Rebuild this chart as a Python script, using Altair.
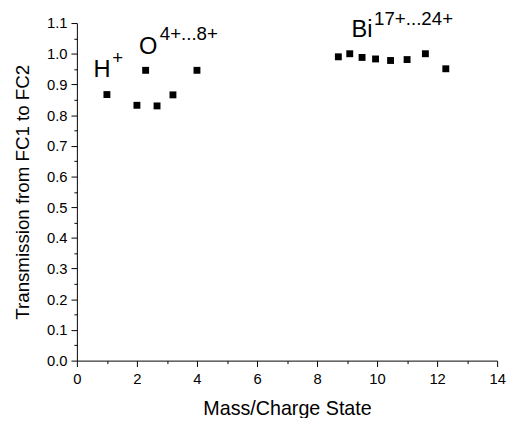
import altair as alt
import pandas as pd

# Data
mass_charge = [1.0, 2.0, 2.29, 2.67, 3.2, 4.0,
               8.71, 9.09, 9.5, 9.95, 10.45, 11.0, 11.61, 12.29]
transmission = [0.867, 0.832, 0.946, 0.830, 0.866, 0.946,
                0.990, 1.000, 0.988, 0.983, 0.978, 0.981, 1.000, 0.951]

# Annotation labels (element symbol + charge superscript)
main_text = ["H", "O", "Bi"]
main_x = [0.55, 2.07, 9.15]
main_y = [0.925, 1.0, 1.055]
sup_text = ["+", "4+...8+", "17+...24+"]
sup_x = [1.18, 2.76, 9.9]
sup_y = [0.965, 1.045, 1.095]

x_ticks = list(range(0, 15))
y_ticks = [round(i * 0.05, 2) for i in range(0, 23)]

FONT = "Liberation Sans"

pts = pd.DataFrame({"x": mass_charge, "y": transmission})
main_df = pd.DataFrame({"x": main_x, "y": main_y, "t": main_text})
sup_df = pd.DataFrame({"x": sup_x, "y": sup_y, "t": sup_text})

xscale = alt.Scale(domain=[0, 14], nice=False, zero=False)
yscale = alt.Scale(domain=[0, 1.1], nice=False, zero=False)

x_axis = alt.Axis(
    values=x_ticks,
    title="Mass/Charge State",
    labelExpr="datum.value % 2 === 0 ? datum.label : ''",
    tickSize={"condition": {"test": "datum.value % 2 === 0", "value": 6}, "value": 3},
    grid=False,
    labelFontSize=15,
    titleFontSize=20,
    titleFontWeight="normal",
    labelPadding=5,
    titlePadding=13,
    labelFlush=False,
    labelOverlap=False,
)
y_axis = alt.Axis(
    values=y_ticks,
    title="Transmission from FC1 to FC2",
    labelExpr="round(datum.value * 100) % 10 === 0 ? format(datum.value, '.1f') : ''",
    tickSize={"condition": {"test": "round(datum.value * 100) % 10 === 0", "value": 6}, "value": 3},
    grid=False,
    labelFontSize=15,
    titleFontSize=19,
    titleFontWeight="normal",
    labelPadding=4,
    titlePadding=14,
    labelFlush=False,
    labelOverlap=False,
)

X = alt.X("x:Q", scale=xscale, axis=x_axis)
Y = alt.Y("y:Q", scale=yscale, axis=y_axis)

points = alt.Chart(pts).mark_square(size=49, color="black", opacity=1).encode(x=X, y=Y)

labels_main = alt.Chart(main_df).mark_text(
    font=FONT, fontSize=24, align="left", baseline="alphabetic", color="black"
).encode(x=X, y=Y, text="t:N")

labels_sup = alt.Chart(sup_df).mark_text(
    font=FONT, fontSize=19, align="left", baseline="alphabetic", color="black"
).encode(x=X, y=Y, text="t:N")

chart = alt.layer(points, labels_main, labels_sup).properties(
    width=427,
    height=343,
    autosize=alt.AutoSizeParams(type="none"),
    padding={"left": 70, "top": 12, "right": 9, "bottom": 55},
).configure_view(stroke=None).configure_axis(
    domainColor="black",
    tickColor="black",
    labelColor="black",
    titleColor="black",
    labelFont=FONT,
    titleFont=FONT,
    domainWidth=1,
    tickWidth=1,
)

chart.save("out.html", embed_options={"renderer": "svg", "actions": False})
